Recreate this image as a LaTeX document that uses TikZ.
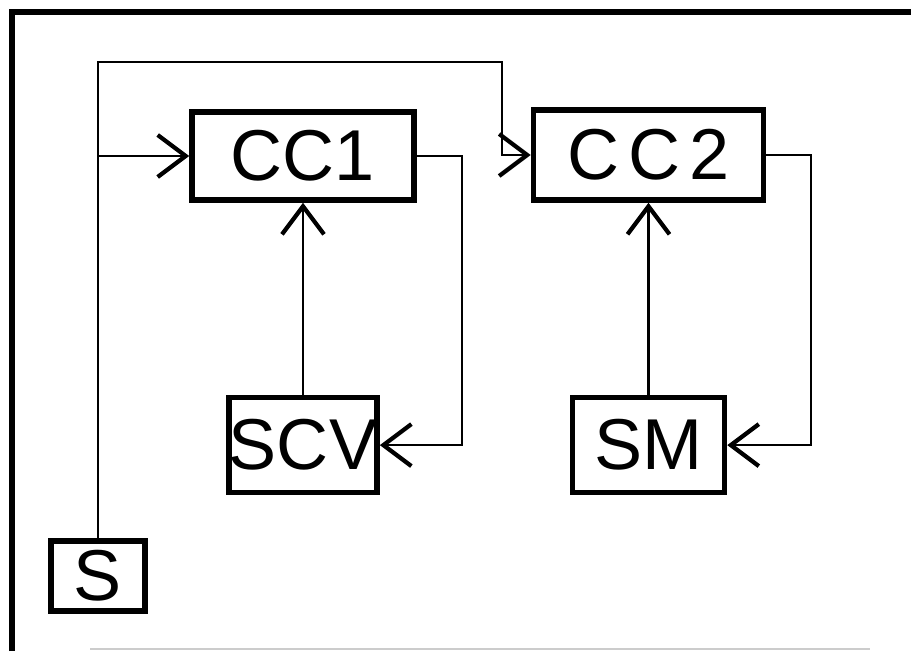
\documentclass[tikz,border=0pt]{standalone}
\usepackage{fontspec}
\setmainfont{Liberation Sans}
\usepackage{tikz}
\usetikzlibrary{positioning,arrows.meta,calc}

\begin{document}
\begin{tikzpicture}[
  block/.style={rectangle,draw,line width=3.2pt,fill=white,inner sep=0pt,align=center,font=\fontsize{41}{48}\selectfont},
  wire/.style={line width=1.3pt},
  arrow/.style={wire,-{Straight Barb[length=0.56cm,width=0.84cm,line width=2.4pt]}},
  frame/.style={line width=3.4pt},
]
\useasboundingbox (0,0) rectangle (18.22,13.02);

% Frame
\draw[frame] (0.24,0) |- (18.22,12.78);
\draw[gray!40,line width=0.8pt] (1.8,0.04) -- (17.4,0.04);

% Controllers
\node[block,minimum width=4.44cm,minimum height=1.76cm] (cc1) at (6.06,9.9) {CC1};
\node[block,minimum width=4.6cm,minimum height=1.8cm] (cc2) at (12.97,9.92) {C\kern.12em C\kern.12em 2};

% Plants
\node[block,minimum width=2.96cm,minimum height=1.9cm,below=3.84cm of cc1] (scv) {SCV};
\node[block,minimum width=3.04cm,minimum height=1.9cm,below=3.84cm of cc2] (sm) {SM};

% Source
\node[block,minimum width=1.88cm,minimum height=1.4cm] (s) at (1.96,1.5) {S};

% Set point lines
\coordinate (bus) at (10.04,11.78);
\draw[arrow] (s.north) |- (bus) |- (cc2.west);
\draw[arrow] (s.north|-cc1.west) -- (cc1.west);

% Loops
\draw[arrow] (scv.north) -- (cc1.south);
\draw[arrow] (cc1.east) -- ++(0.9,0) |- (scv.east);
\draw[arrow] (sm.north) -- (cc2.south);
\draw[arrow] (cc2.east) -- ++(0.9,0) |- (sm.east);

\end{tikzpicture}
\end{document}
